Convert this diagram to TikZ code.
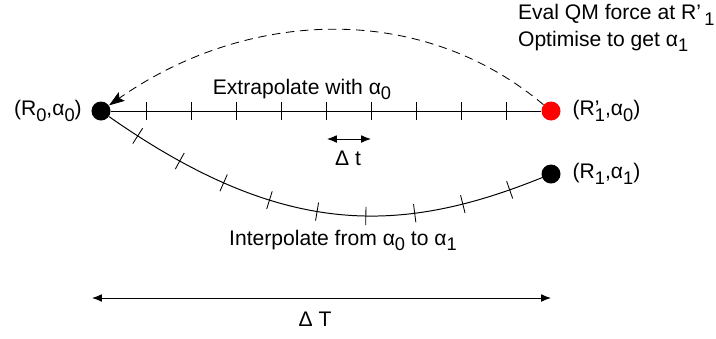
\documentclass[tikz,border=0pt]{standalone}
\usepackage{fontspec}
\setmainfont{Liberation Sans}
\usetikzlibrary{arrows.meta, positioning, decorations.markings}
\newcommand{\lo}[1]{\raisebox{-0.27em}{\fontsize{13}{13}\selectfont #1}}
\tikzset{
    dot/.style={circle, fill=black, inner sep=0pt, minimum size=0.475cm},
    lbl/.style={font=\fontsize{15}{19}\selectfont, inner sep=2pt},
    track/.style={line width=0.7pt},
    span/.style={line width=0.7pt, {Latex[length=7pt,width=5.5pt]}-{Latex[length=7pt,width=5.5pt]}},
    jump/.style={line width=0.6pt, dash pattern=on 6pt off 4pt, -{Stealth[length=11pt,width=7.5pt,inset=2pt]}},
    ticked/.style={postaction={decorate}, decoration={markings,
        mark=between positions 0.075 and 0.93 step 0.10625 with {\draw[line width=0.6pt] (0,-6.5pt) -- (0,6.5pt);}}}
}
\begin{document}
\begin{tikzpicture}[x=0.025cm, y=0.025cm]
    \useasboundingbox (0,0) rectangle (716,338);

    \node (r0) [dot] at (101,227) {};
    \node (r1p) [dot, fill=red] at (551,227) {};
    \node (r1) [dot] at (551,164) {};

    \node (r0lbl) [lbl, left=0.16cm of r0] {(R\lo{0},α\lo{0})};
    \node (r1plbl) [lbl, right=0.22cm of r1p] {(R\rlap{’}\lo{1},α\lo{0})};
    \node (r1lbl) [lbl, right=0.22cm of r1] {(R\lo{1},α\lo{1})};
    \node (eval) [lbl, anchor=north west, align=left] at (515,337) {Eval QM force at R’\,\lo{1}\\Optimise to get α\lo{1}};

    \node (extra) [lbl, anchor=base] at (302,244) {Extrapolate with α\lo{0}};
    \node (inter) [lbl, anchor=base] at (343,93) {Interpolate from α\lo{0} to α\lo{1}};

    \draw [track] (r0) -- (r1p);
    \foreach \i in {1,...,9}
        \draw [line width=0.6pt] (101+45*\i,218) -- (101+45*\i,236);
    \draw [track, ticked] (r0) .. controls +(-35:220) and +(202:165) .. (r1);
    \draw [jump] (r1p) to[out=140, in=35, looseness=0.97] (r0);

    \coordinate (dtl) at (327,199);
    \coordinate (dtr) at (371,199);
    \draw [span] (dtl) -- (dtr);
    \node (dtlbl) [lbl, anchor=base] at (348,173) {Δ t};

    \coordinate (dTl) at (92,40);
    \coordinate (dTr) at (551,40);
    \draw [span] (dTl) -- (dTr);
    \node (dTlbl) [lbl, anchor=base] at (315,12) {Δ T};
\end{tikzpicture}
\end{document}
